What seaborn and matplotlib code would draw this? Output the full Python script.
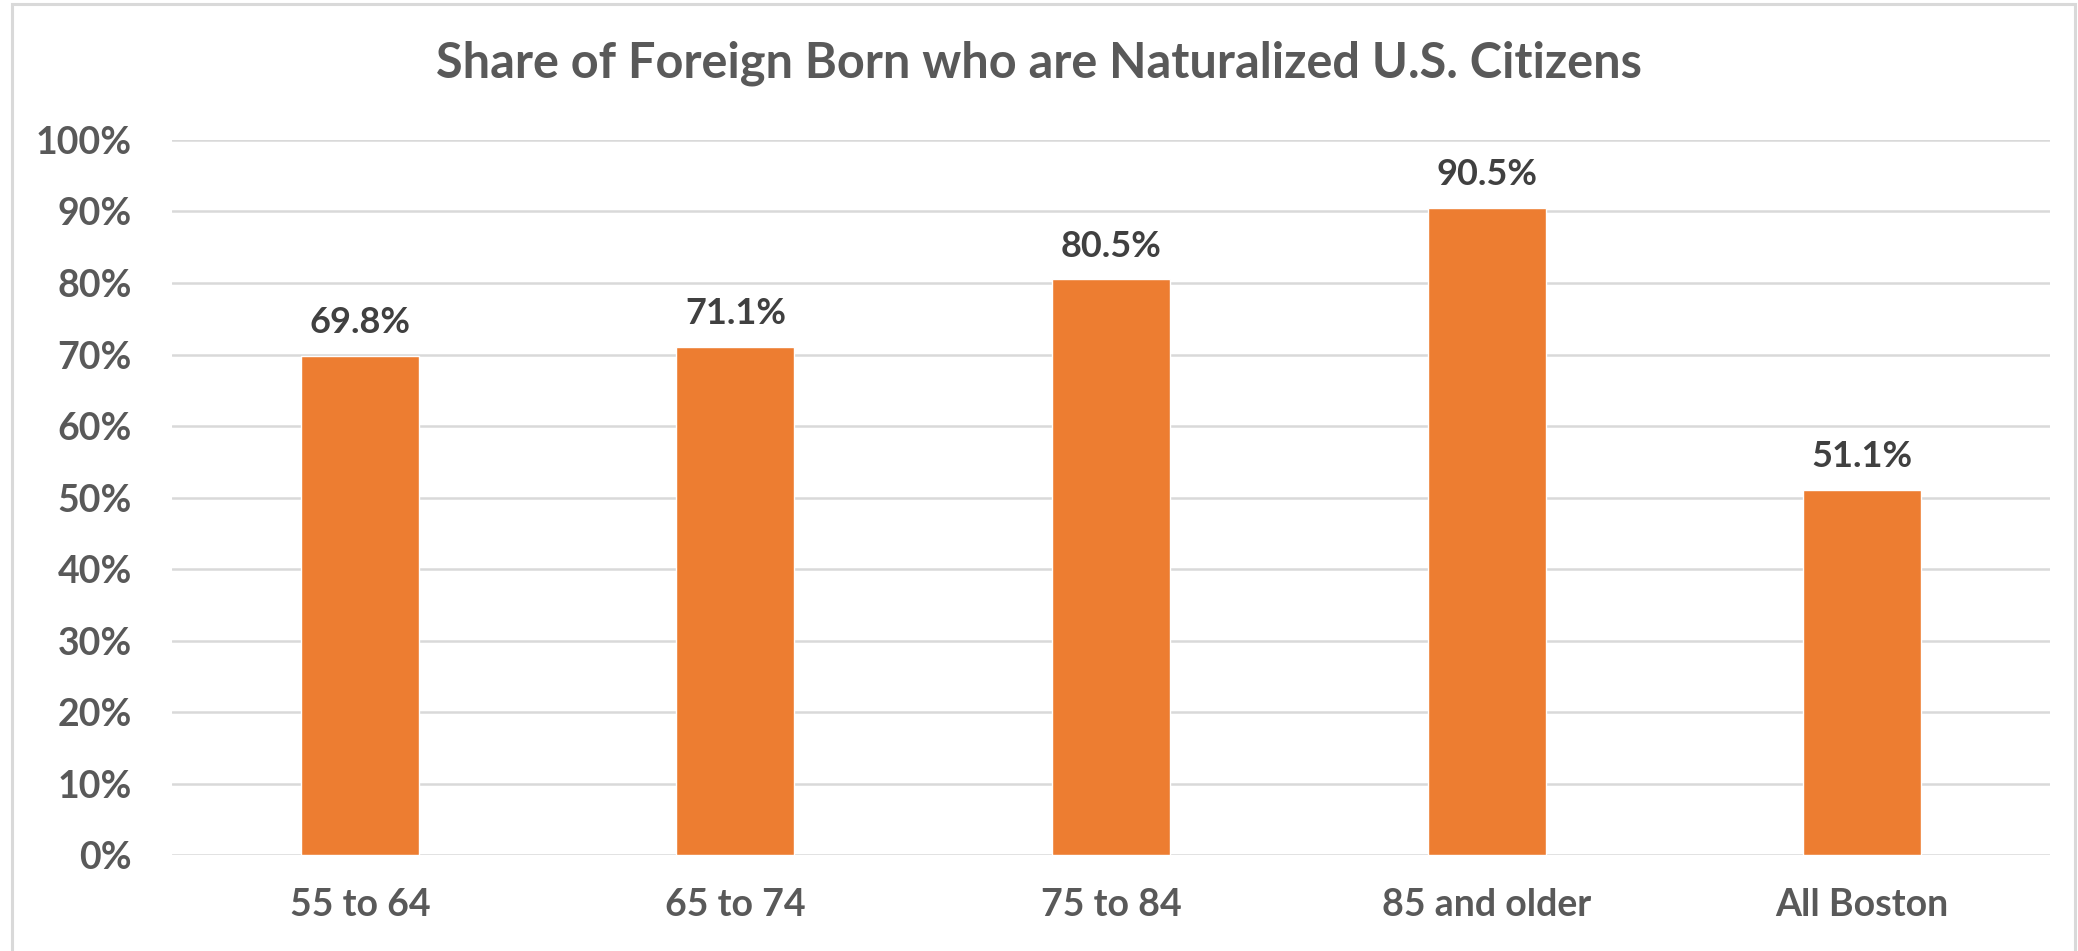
import pandas as pd
import matplotlib.pyplot as plt
import seaborn as sb
from matplotlib.patches import Rectangle

# values
groups = ['55 to 64', '65 to 74', '75 to 84', '85 and older', 'All Boston']
share = [69.8, 71.1, 80.5, 90.5, 51.1]
yticks = [0, 10, 20, 30, 40, 50, 60, 70, 80, 90, 100]

df = pd.DataFrame({'Group': groups, 'Share': share})

sb.set_style('white')
plt.rcParams['font.family'] = ['Lato', 'DejaVu Sans']

fig = plt.figure(figsize=(20.78, 9.51), dpi=100)
ax = fig.add_axes([0.0828, 0.1009, 0.9037, 0.7519])

sb.barplot(df, x='Group', y='Share', color='#ED7D31', width=0.314,
           saturation=1, ax=ax, zorder=3)

ax.set_ylim(0, 100)
ax.set_xlim(-0.5, len(groups) - 0.5)
ax.set_yticks(yticks)
ax.set_yticklabels([f'{t}%' for t in yticks])
ax.yaxis.grid(True, color='#d9d9d9', linewidth=1.8, zorder=0)
ax.set_axisbelow(True)
for s in ax.spines.values():
    s.set_visible(False)
ax.tick_params(axis='both', length=0, labelsize=27, labelcolor='#595959')
ax.tick_params(axis='y', pad=29)
ax.tick_params(axis='x', pad=24)
for lbl in ax.get_xticklabels() + ax.get_yticklabels():
    lbl.set_fontweight('bold')
ax.set_xlabel('')
ax.set_ylabel('')

for bars in ax.containers:
    ax.bar_label(bars, labels=[f'{v:.1f}%' for v in share], padding=12,
                 fontsize=26, fontweight='bold', color='#404040')

fig.text(0.5, 1 - 78 / 951, 'Share of Foreign Born who are Naturalized U.S. Citizens',
         ha='center', va='baseline', fontsize=35, fontweight='bold', color='#595959')

# light frame round the chart area, like the Excel chart border
fig.patches.append(Rectangle((12 / 2078, -0.01), 2063 / 2078, 1.01 - 4 / 951,
                             transform=fig.transFigure, fill=False,
                             edgecolor='#d9d9d9', linewidth=2.2))

fig.savefig('out.png', dpi=100, facecolor='white')
